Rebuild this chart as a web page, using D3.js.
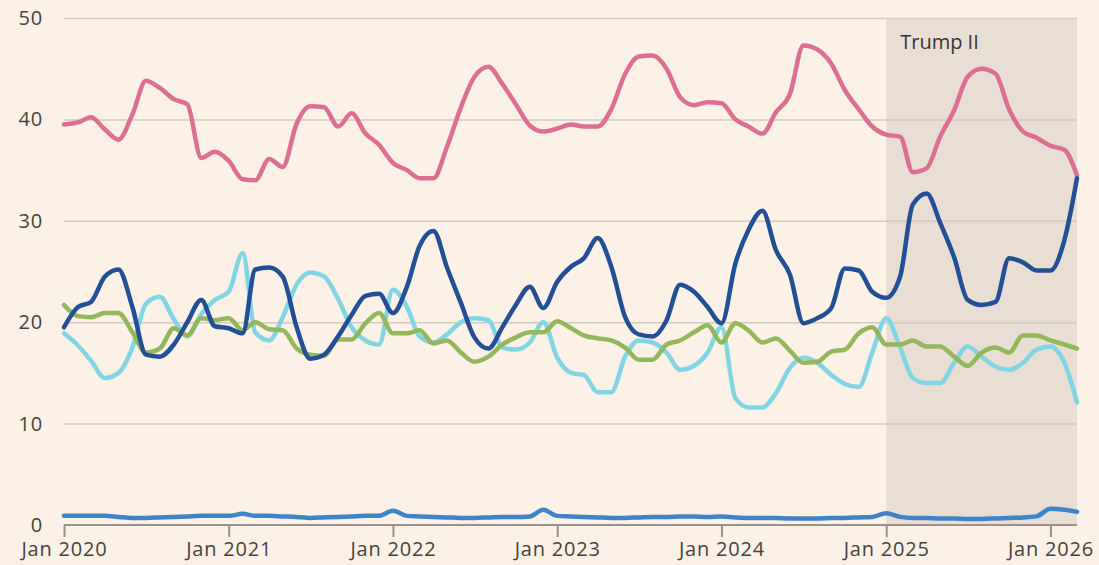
<!DOCTYPE html>
<html>
<head>
<meta charset="utf-8">
<script src="https://cdn.jsdelivr.net/npm/d3@7"></script>
<style>
  html, body { margin: 0; padding: 0; background: #fcf1e6; }
  svg { display: block; }
  .tick text { font-family: "Open Sans", "Noto Sans", sans-serif; font-size: 20px; letter-spacing: 0.8px; fill: #47423e; }
</style>
</head>
<body>
<div id="chart"></div>
<script>
var svgWidth = 1099;
var svgHeight = 565;

var margin = {
    top: 18,
    right: 22,
    bottom: 40,
    left: 64};

var width = svgWidth - margin.left - margin.right;
var height = svgHeight - margin.top - margin.bottom;

// monthly, Jan 2020 .. Mar 2026
var startMonth = new Date(2020, 0, 1);

var pink = [39.5, 39.7, 40.2, 39.0, 38.0, 40.5, 43.8, 43.1, 42.0, 41.5, 36.2, 36.8,
    35.9, 34.1, 34.0, 36.1, 35.3, 39.6, 41.3, 41.2, 39.3, 40.6, 38.6, 37.5,
    35.7, 35.0, 34.2, 34.2, 37.3, 41.2, 44.2, 45.2, 43.5, 41.5, 39.4, 38.8,
    39.1, 39.5, 39.3, 39.3, 41.0, 44.5, 46.2, 46.3, 45.0, 42.2, 41.4, 41.7,
    41.6, 40.0, 39.3, 38.6, 40.7, 42.5, 47.3, 46.9, 45.5, 42.9, 41.0, 39.3,
    38.5, 38.3, 34.8, 35.2, 38.3, 40.9, 44.2, 45.0, 44.5, 41.0, 38.8, 38.2,
    37.4, 37.0, 34.5];

var navy = [19.5, 21.5, 22.0, 24.5, 25.2, 21.5, 16.8, 16.6, 17.8, 20.0, 22.2, 19.6,
    19.4, 18.9, 25.2, 25.4, 24.5, 19.5, 16.4, 16.8, 18.6, 20.7, 22.6, 22.8,
    20.9, 23.5, 27.5, 29.0, 25.4, 21.9, 18.5, 17.4, 19.5, 21.7, 23.5, 21.4,
    24.0, 25.5, 26.3, 28.3, 25.5, 20.5, 18.8, 18.6, 20.2, 23.7, 23.0, 21.5,
    19.9, 25.8, 29.1, 31.0, 27.1, 24.7, 19.9, 20.4, 21.4, 25.3, 25.1, 23.0,
    22.4, 24.5, 31.6, 32.7, 29.8, 26.4, 22.2, 21.7, 22.0, 26.3, 25.9, 25.1,
    25.1, 28.1, 34.2];

var cyan = [18.9, 17.7, 16.2, 14.5, 15.0, 17.5, 21.8, 22.5, 20.3, 18.6, 20.8, 22.2,
    23.0, 26.8, 19.0, 18.2, 20.5, 23.7, 24.9, 24.5, 22.3, 19.5, 18.2, 17.8,
    23.2, 21.5, 18.6, 18.0, 18.8, 20.0, 20.4, 20.2, 17.5, 17.3, 18.0, 20.0,
    16.5, 15.0, 14.8, 13.1, 13.1, 16.6, 18.2, 18.0, 17.0, 15.3, 15.7, 17.0,
    19.5, 12.5, 11.6, 11.6, 13.0, 15.5, 16.5, 16.0, 14.8, 13.9, 13.6, 17.0,
    20.4, 17.5, 14.5, 14.0, 14.0, 16.0, 17.6, 16.6, 15.6, 15.3, 16.0, 17.3,
    17.6, 16.0, 12.1];

var green = [21.7, 20.6, 20.5, 20.9, 20.9, 19.0, 17.0, 17.4, 19.4, 18.7, 20.4, 20.2,
    20.4, 19.2, 20.0, 19.3, 19.2, 17.4, 16.8, 16.7, 18.3, 18.3, 19.9, 20.9,
    18.9, 18.9, 19.2, 17.9, 18.2, 17.0, 16.1, 16.6, 17.8, 18.5, 19.0, 19.0,
    20.1, 19.4, 18.7, 18.4, 18.2, 17.5, 16.3, 16.3, 17.8, 18.2, 19.0, 19.7,
    18.0, 19.9, 19.2, 18.0, 18.4, 17.2, 16.0, 16.1, 17.1, 17.3, 18.9, 19.5,
    17.8, 17.8, 18.2, 17.6, 17.6, 16.6, 15.7, 17.0, 17.5, 17.0, 18.7, 18.7,
    18.2, 17.8, 17.4];

var lowBlue = [0.9, 0.9, 0.9, 0.9, 0.8, 0.7, 0.7, 0.75, 0.8, 0.85, 0.9, 0.9,
    0.9, 1.1, 0.9, 0.9, 0.85, 0.8, 0.7, 0.75, 0.8, 0.85, 0.9, 0.9,
    1.4, 0.9, 0.85, 0.8, 0.75, 0.7, 0.7, 0.75, 0.8, 0.8, 0.85, 1.5,
    0.9, 0.85, 0.8, 0.75, 0.7, 0.7, 0.75, 0.8, 0.8, 0.85, 0.85, 0.8,
    0.85, 0.75, 0.7, 0.7, 0.7, 0.65, 0.65, 0.65, 0.7, 0.7, 0.75, 0.8,
    1.15, 0.8, 0.7, 0.7, 0.65, 0.65, 0.6, 0.6, 0.65, 0.7, 0.75, 0.85,
    1.6, 1.5, 1.3];

var yTicks = [0, 10, 20, 30, 40, 50];
var xTickYears = [2020, 2021, 2022, 2023, 2024, 2025, 2026];
var shadeStart = new Date(2025, 0, 1);
var shadeLabel = "Trump II";

var series = [
    {name: "pink", values: pink, color: "#dd6f93"},
    {name: "lowBlue", values: lowBlue, color: "#3d84c8"},
    {name: "cyan", values: cyan, color: "#82d5e4"},
    {name: "green", values: green, color: "#93b75a"},
    {name: "navy", values: navy, color: "#224f95"}
];

var dates = pink.map(function(d, i) {
    return d3.timeMonth.offset(startMonth, i);
});

var svg = d3.select("#chart")
    .append("svg")
        .attr("width", svgWidth)
        .attr("height", svgHeight);

svg.append("rect")
    .attr("width", svgWidth)
    .attr("height", svgHeight)
    .attr("fill", "#fcf1e6");

var chartGroup = svg.append("g")
    .attr("transform", `translate(${margin.left}, ${margin.top})`);

var x = d3.scaleTime()
    .domain(d3.extent(dates))
    .range([0, width]);

var y = d3.scaleLinear()
    .domain([0, 50])
    .range([height, 0]);

// shaded period
chartGroup.append("rect")
    .attr("x", x(shadeStart))
    .attr("y", y(50))
    .attr("width", width - x(shadeStart))
    .attr("height", y(0) - y(50))
    .attr("fill", "#e8ded4");

chartGroup.append("text")
    .attr("x", x(shadeStart) + 14)
    .attr("y", y(50) + 31)
    .style("font-family", "'Open Sans', 'Noto Sans', sans-serif")
    .style("font-size", "20px")
    .style("fill", "#3a3633")
    .text(shadeLabel);

// gridlines + y labels
var yAxis = d3.axisLeft(y)
    .tickValues(yTicks)
    .tickSize(-width)
    .tickPadding(21)
    .tickFormat(d3.format("d"));

chartGroup.append("g")
    .attr("class", "y axis")
    .call(yAxis)
    .call(function(g) {
        g.select(".domain").remove();
        g.selectAll(".tick line").attr("stroke", "#d3cac0").attr("stroke-width", 1.5);
        g.selectAll(".tick").filter(function(d) { return d === 0; }).select("line").remove();
    });

// x axis
var xAxis = d3.axisBottom(x)
    .tickValues(xTickYears.map(function(yr) { return new Date(yr, 0, 1); }))
    .tickSize(12)
    .tickPadding(5)
    .tickFormat(d3.timeFormat("Jan %Y"));

chartGroup.append("g")
    .attr("class", "x axis")
    .attr("transform", "translate(0," + height + ")")
    .call(xAxis)
    .call(function(g) {
        g.select(".domain").attr("stroke", "#99918a").attr("stroke-width", 2).attr("d", "M0,0H" + width);
        g.selectAll(".tick line").attr("stroke", "#99918a").attr("stroke-width", 2);
    });

var line = d3.line()
    .x(function(d, i) { return x(dates[i]); })
    .y(function(d) { return y(d); })
    .curve(d3.curveMonotoneX);

series.forEach(function(s) {
    chartGroup.append("path")
        .attr("class", "line " + s.name)
        .attr("d", line(s.values))
        .style("fill", "none")
        .style("stroke", s.color)
        .style("stroke-width", 4.5)
        .style("stroke-linejoin", "round")
        .style("stroke-linecap", "round");
});
</script>
</body>
</html>
